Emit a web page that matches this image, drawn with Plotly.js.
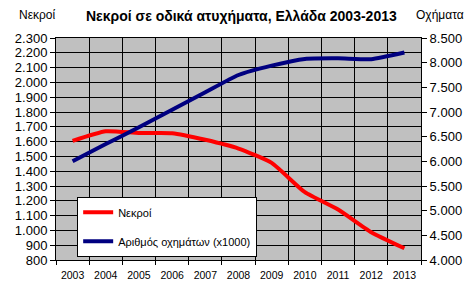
<!DOCTYPE html>
<html>
<head>
<meta charset="utf-8">
<script src="https://cdn.plot.ly/plotly-3.0.1.min.js"></script>
<style>html,body{margin:0;padding:0;background:#fff;}#chart{width:476px;height:300px;}</style>
</head>
<body>
<div id="chart"></div>
<script>
const years = ['2003','2004','2005','2006','2007','2008','2009','2010','2011','2012','2013'];
const deaths = [1605, 1670, 1658, 1657, 1612, 1553, 1456, 1258, 1141, 988, 879];
const vehicles = [6000, 6350, 6690, 7045, 7400, 7750, 7940, 8076, 8088, 8070, 8205];
const deathsName = 'Νεκροί';
const vehiclesName = 'Αριθμός οχημάτων (x1000)';
const leftTicks = [800,900,1000,1100,1200,1300,1400,1500,1600,1700,1800,1900,2000,2100,2200,2300];
const rightTicks = [4000,4500,5000,5500,6000,6500,7000,7500,8000,8500];

const FONT = 'Liberation Sans, Arial, sans-serif';

const traces = [
  {x: years, y: deaths, name: deathsName, type: 'scatter', mode: 'lines',
   line: {color: '#ff0000', width: 4, shape: 'spline', smoothing: 0.5},
   legendgroup: 'a', yaxis: 'y'},
  {x: years, y: vehicles, name: vehiclesName, type: 'scatter', mode: 'lines',
   line: {color: '#000080', width: 4, shape: 'spline', smoothing: 0.5},
   legendgroup: 'b', yaxis: 'y2'}
];

const layout = {
  width: 476, height: 300,
  margin: {l: 56, r: 55, t: 38, b: 40},
  paper_bgcolor: '#ffffff', plot_bgcolor: '#c0c0c0',
  separators: ',.',
  font: {family: FONT, size: 12, color: '#000'},
  showlegend: true,
  legend: {x: 0.058, y: 0.285, xanchor: 'left', yanchor: 'top',
           bgcolor: '#ffffff', bordercolor: '#000', borderwidth: 1,
           font: {family: FONT, size: 11, color: '#000'},
           traceorder: 'grouped', tracegroupgap: 10, itemwidth: 30},
  xaxis: {type: 'category', range: [-0.5, 10.5], tickson: 'boundaries', ticks: 'outside', ticklen: 4,
          tickcolor: '#000', showgrid: true, gridcolor: '#000', gridwidth: 1,
          showline: true, linecolor: '#000', linewidth: 1, mirror: true,
          ticklabelstandoff: 5,
          tickfont: {family: FONT, size: 10.5, color: '#000'}, fixedrange: true},
  yaxis: {range: [800, 2300], tickvals: leftTicks, tickformat: ',d',
          ticks: 'outside', ticklen: 5, tickcolor: '#000',
          showgrid: true, gridcolor: '#000', gridwidth: 1, zeroline: false,
          showline: true, linecolor: '#000', linewidth: 1,
          tickfont: {family: FONT, size: 13, color: '#000'}},
  yaxis2: {range: [4000, 8500], tickvals: rightTicks, tickformat: ',d',
           overlaying: 'y', side: 'right', ticks: 'outside', ticklen: 5, tickcolor: '#000',
           showgrid: false, zeroline: false, showline: true, linecolor: '#000', linewidth: 1,
           tickfont: {family: FONT, size: 13, color: '#000'}},
  annotations: [
    {text: '<b>Νεκροί σε οδικά ατυχήματα, Ελλάδα 2003-2013</b>', xref: 'paper', yref: 'paper',
     x: (241.5-56)/365, y: (260-15.5)/222, xanchor: 'center', yanchor: 'middle', showarrow: false,
     font: {family: FONT, size: 14, color: '#000'}},
    {text: 'Νεκροί', xref: 'paper', yref: 'paper', x: (37.5-56)/365, y: (260-15)/222,
     xanchor: 'center', yanchor: 'middle', showarrow: false, font: {family: FONT, size: 12, color: '#000'}},
    {text: 'Οχήματα', xref: 'paper', yref: 'paper', x: (439.5-56)/365, y: (260-15)/222,
     xanchor: 'center', yanchor: 'middle', showarrow: false, font: {family: FONT, size: 12, color: '#000'}}
  ]
};

Plotly.newPlot('chart', traces, layout, {staticPlot: true, displayModeBar: false});
</script>
</body>
</html>
